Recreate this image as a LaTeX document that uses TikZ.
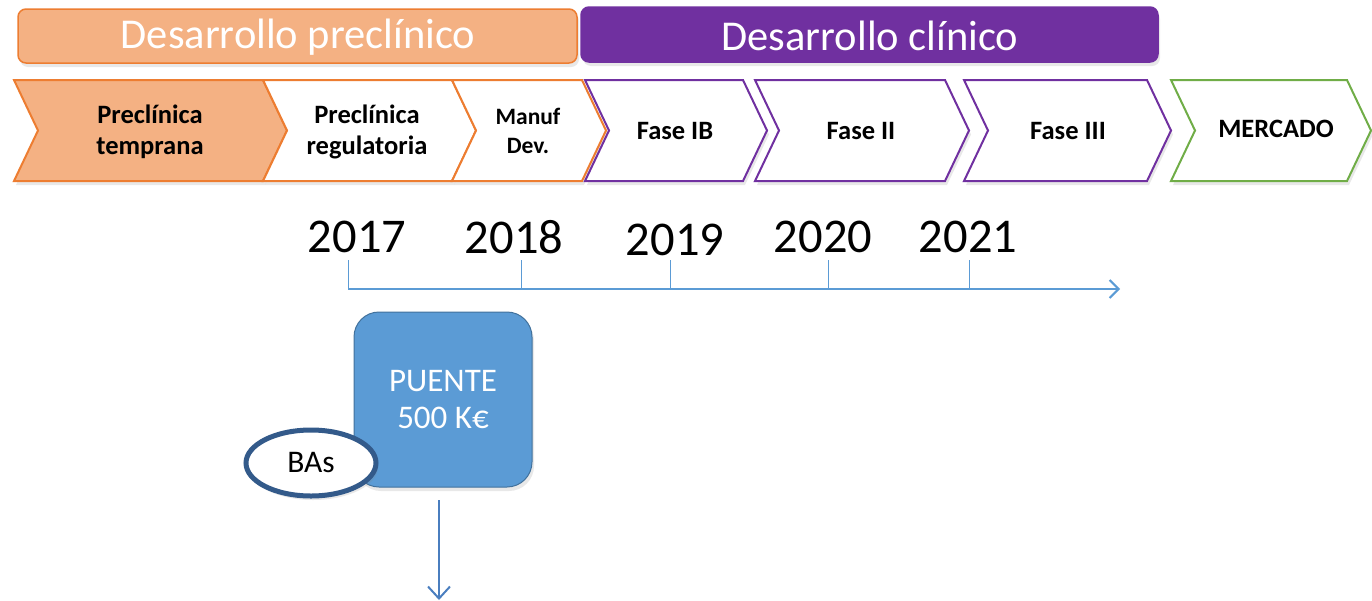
\documentclass[tikz,border=0pt]{standalone}
\usepackage{fontspec}
\setmainfont{Carlito}
\usetikzlibrary{shadows,arrows.meta,shapes.geometric}
\definecolor{orfill}{HTML}{F4B183}
\definecolor{orline}{HTML}{ED7D31}
\definecolor{purp}{HTML}{7030A0}
\definecolor{grn}{HTML}{70AD47}
\definecolor{tblue}{HTML}{5B9BD5}
\definecolor{bline}{HTML}{41719C}
\definecolor{ablue}{HTML}{4A7EBF}
\definecolor{dblue}{HTML}{335A8A}
\newcommand{\mychev}[3]{%
  \draw[#1] (#2,80) -- (#3,80) -- ({#3+24},130.5) -- (#3,181) -- (#2,181) -- ({#2+24},130.5) -- cycle;}
\tikzset{
  shd/.style={drop shadow={opacity=0.18, shadow xshift=2pt, shadow yshift=-4pt}},
  banner/.style={rounded corners=8pt, line width=1.5pt, shd},
  bannertext/.style={text=white, font=\fontsize{42.5}{48}\selectfont},
  chevo/.style={line width=2pt, draw=orline, fill=white, shd},
  chevp/.style={line width=2pt, draw=purp, fill=white, shd},
  chevg/.style={line width=2pt, draw=grn, fill=white, shd},
  lab/.style={font=\bfseries\fontsize{26.5}{31}\selectfont, align=center, text=black},
  labs/.style={font=\bfseries\fontsize{23.5}{29}\selectfont, align=center, text=black},
  year/.style={font=\fontsize{48.5}{54}\selectfont, text=black},
  tick/.style={draw=tblue, line width=1pt},
}
\begin{document}
\begin{tikzpicture}[x=1pt,y=-1pt]
\useasboundingbox (0,0) rectangle (1372,600);
% banners
\draw[banner, draw=orline, fill=orfill] (18,9) rectangle (577,63);
\node[bannertext] (pre) at (298,37) {Desarrollo preclínico};
\draw[banner, draw=purp, fill=purp] (581,7) rectangle (1158,62);
\node[bannertext] (cli) at (870,36) {Desarrollo clínico};
% chevrons
\mychev{chevo, fill=orfill}{14}{263}
\mychev{chevo}{263}{452}
\mychev{chevo}{452}{582}
\mychev{chevp}{585}{743}
\mychev{chevp}{755}{945}
\mychev{chevp}{964}{1147}
\mychev{chevg}{1171}{1347}
\node[lab] (c1) at (150,132) {Preclínica\\temprana};
\node[lab] (c2) at (367,132) {Preclínica\\regulatoria};
\node[labs] (c3) at (528,131) {Manuf\\Dev.};
\node[lab] (c4) at (675,131) {Fase IB};
\node[lab] (c5) at (861,131) {Fase II};
\node[lab] (c6) at (1068,131) {Fase III};
\node[lab] (c7) at (1276,129) {MERCADO};
% years
\node[year] (y17) at (357,237) {2017};
\node[year] (y18) at (514,237) {2018};
\node[year] (y19) at (675,240) {2019};
\node[year] (y20) at (823,237) {2020};
\node[year] (y21) at (968,237) {2021};
\coordinate (a0) at (348,289);
\coordinate (a1) at (1120,289);
\coordinate (t17) at (348,260);
\coordinate (t18) at (521,260);
\coordinate (t19) at (670,260);
\coordinate (t20) at (828,260);
\coordinate (t21) at (969,260);
\draw[tick] (t17) -- (a0);
\draw[tick] (t18) -- (t18 |- a0);
\draw[tick] (t19) -- (t19 |- a0);
\draw[tick] (t20) -- (t20 |- a0);
\draw[tick] (t21) -- (t21 |- a0);
\draw[draw=tblue, line width=2pt, -{Straight Barb[length=9pt,width=18pt,line width=2pt]}] (a0) -- (a1);
% PUENTE box
\node[draw=bline, line width=1pt, fill=tblue, rounded corners=25pt, minimum width=178pt, minimum height=175pt,
      text=white, align=center, font=\fontsize{33}{37}\selectfont, shd] (puente) at (443,399.5) {PUENTE\\500 K€};
\node[ellipse, draw=dblue, line width=5pt, fill=white, minimum width=130pt, minimum height=66pt,
      font=\fontsize{31.5}{34}\selectfont, inner sep=0pt, shd] (bas) at (311,463) {BAs};
\coordinate (arrtop) at (439,500);
\coordinate (arrend) at (439,600);
\draw[draw=ablue, line width=2pt, -{Straight Barb[length=12pt,width=22pt,line width=2pt]}] (arrtop) -- (arrend);
\end{tikzpicture}
\end{document}
